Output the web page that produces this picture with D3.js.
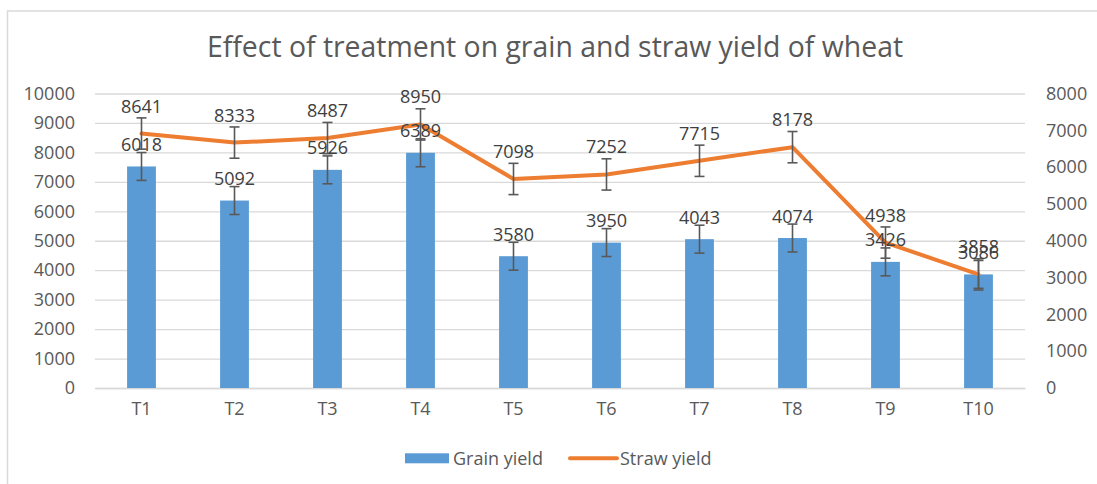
<!DOCTYPE html>
<html>
<head>
<meta charset="utf-8">
<script src="https://cdn.jsdelivr.net/npm/d3@7"></script>
<style>
  html, body { margin: 0; padding: 0; background: #fff; }
  svg text { font-family: "Open Sans", sans-serif; }
</style>
</head>
<body>
<div id="chart"></div>
<script>
// data
const treatments = ['T1', 'T2', 'T3', 'T4', 'T5', 'T6', 'T7', 'T8', 'T9', 'T10'];
const grainYield = [6018, 5092, 5926, 6389, 3580, 3950, 4043, 4074, 3426, 3086];
const strawYield = [8641, 8333, 8487, 8950, 7098, 7252, 7715, 8178, 4938, 3858];
// error bar half-heights (standard error, same for each point)
const grainErr = [379, 379, 379, 379, 379, 379, 379, 379, 379, 379];
const strawErr = [531, 531, 531, 531, 531, 531, 531, 531, 531, 531];
const leftTicks = [0, 1000, 2000, 3000, 4000, 5000, 6000, 7000, 8000, 9000, 10000];
const rightTicks = [0, 1000, 2000, 3000, 4000, 5000, 6000, 7000, 8000];
const title = 'Effect of treatment on grain and straw yield of wheat';

const width = 1097, height = 484;
const plot = { left: 95, right: 1025, top: 93.5, bottom: 388 };
const blue = '#5b9bd5', orange = '#ed7d31', grid = '#d9d9d9';
const fs = '18px';

const svg = d3.select('#chart').append('svg')
    .attr('width', width)
    .attr('height', height);

// outer chart frame (right/bottom edges fall outside the picture)
svg.append('rect')
    .attr('x', 7.5).attr('y', 11)
    .attr('width', 1200).attr('height', 600)
    .style('fill', 'none')
    .style('stroke', grid)
    .style('stroke-width', 1.5);

svg.append('text')
    .attr('x', 555)
    .attr('y', 57)
    .style('text-anchor', 'middle')
    .style('font-size', '28.4px')
    .style('fill', '#595959')
    .text(title);

const x = d3.scaleBand()
    .domain(treatments)
    .range([plot.left, plot.right])
    .padding(0);
const cx = d => x(d) + x.bandwidth() / 2;
const barW = x.bandwidth() * 0.31;

const yL = d3.scaleLinear().domain([0, 10000]).range([plot.bottom, plot.top]);
const yR = d3.scaleLinear().domain([0, 8000]).range([plot.bottom, plot.top]);

// gridlines
const gridG = svg.append('g')
    .attr('transform', `translate(${plot.left},0)`)
    .call(d3.axisLeft(yL).tickValues(leftTicks).tickSize(-(plot.right - plot.left)).tickFormat(''));
gridG.select('.domain').remove();
gridG.selectAll('line').style('stroke', grid).style('stroke-width', 1.3);

// left axis labels
const leftAxis = svg.append('g')
    .attr('transform', `translate(${plot.left},0)`)
    .call(d3.axisLeft(yL).tickValues(leftTicks).tickSize(0).tickPadding(20).tickFormat(d3.format('d')));
leftAxis.select('.domain').remove();
leftAxis.selectAll('text').style('font-size', fs).style('fill', '#595959');

// right axis labels
const rightAxis = svg.append('g')
    .attr('transform', `translate(${plot.right},0)`)
    .call(d3.axisRight(yR).tickValues(rightTicks).tickSize(0).tickPadding(21).tickFormat(d3.format('d')));
rightAxis.select('.domain').remove();
rightAxis.selectAll('text').style('font-size', fs).style('fill', '#595959');

// category axis
const xAxis = svg.append('g')
    .attr('transform', `translate(0,${plot.bottom})`)
    .call(d3.axisBottom(x).tickSize(0).tickPadding(14));
xAxis.select('.domain').style('stroke', grid).style('stroke-width', 1.5);
xAxis.selectAll('text').style('font-size', fs).style('fill', '#595959');

const grain = treatments.map((t, i) => ({ t, v: grainYield[i], e: grainErr[i] }));
const straw = treatments.map((t, i) => ({ t, v: strawYield[i], e: strawErr[i] }));

// bars (secondary axis)
svg.append('g').selectAll('rect')
    .data(grain)
    .enter().append('rect')
    .attr('x', d => cx(d.t) - barW / 2)
    .attr('y', d => yR(d.v))
    .attr('width', barW)
    .attr('height', d => yR(0) - yR(d.v))
    .style('fill', blue);

function errorBars(data, scale) {
    const g = svg.append('g')
        .style('stroke', '#595959')
        .style('stroke-width', 1.6)
        .style('fill', 'none');
    const eb = g.selectAll('g').data(data).enter().append('g');
    eb.append('line')
        .attr('x1', d => cx(d.t)).attr('x2', d => cx(d.t))
        .attr('y1', d => scale(d.v + d.e)).attr('y2', d => scale(d.v - d.e));
    eb.append('line')
        .attr('x1', d => cx(d.t) - 5).attr('x2', d => cx(d.t) + 5)
        .attr('y1', d => scale(d.v + d.e)).attr('y2', d => scale(d.v + d.e));
    eb.append('line')
        .attr('x1', d => cx(d.t) - 5).attr('x2', d => cx(d.t) + 5)
        .attr('y1', d => scale(d.v - d.e)).attr('y2', d => scale(d.v - d.e));
}
errorBars(grain, yR);

// straw line (primary axis)
const line = d3.line()
    .x(d => cx(d.t))
    .y(d => yL(d.v));
svg.append('path')
    .datum(straw)
    .attr('d', line)
    .style('fill', 'none')
    .style('stroke', orange)
    .style('stroke-width', 4)
    .style('stroke-linejoin', 'round')
    .style('stroke-linecap', 'round');

errorBars(straw, yL);

// data labels
svg.append('g').selectAll('text')
    .data(grain)
    .enter().append('text')
    .attr('x', d => cx(d.t))
    .attr('y', d => yR(d.v) - 15.5)
    .style('text-anchor', 'middle')
    .style('font-size', fs)
    .style('fill', '#404040')
    .text(d => d.v);

svg.append('g').selectAll('text')
    .data(straw)
    .enter().append('text')
    .attr('x', d => cx(d.t))
    .attr('y', d => yL(d.v) - 21)
    .style('text-anchor', 'middle')
    .style('font-size', fs)
    .style('fill', '#404040')
    .text(d => d.v);

// legend
const legend = svg.append('g');
legend.append('rect')
    .attr('x', 405).attr('y', 453.3)
    .attr('width', 44).attr('height', 10)
    .style('fill', blue);
legend.append('text')
    .attr('x', 453).attr('y', 464.5)
    .style('font-size', fs)
    .style('fill', '#595959')
    .text('Grain yield');
legend.append('line')
    .attr('x1', 570).attr('x2', 617)
    .attr('y1', 458.3).attr('y2', 458.3)
    .style('stroke', orange)
    .style('stroke-width', 4)
    .style('stroke-linecap', 'round');
legend.append('text')
    .attr('x', 620).attr('y', 464.5)
    .style('font-size', fs)
    .style('fill', '#595959')
    .text('Straw yield');
</script>
</body>
</html>
